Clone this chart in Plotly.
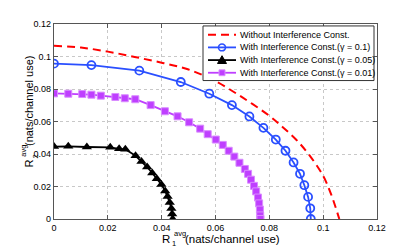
import plotly.graph_objects as go

# ---- data ----
no_ic_x = [0, 0.01, 0.02, 0.03, 0.04, 0.05, 0.06, 0.07, 0.08, 0.085, 0.09, 0.095, 0.1, 0.103, 0.106]
no_ic_y = [0.1066, 0.1055, 0.1030, 0.0997, 0.0962, 0.0920, 0.0848, 0.0748, 0.0635, 0.0565, 0.0488, 0.0390, 0.0265, 0.0150, 0.0]

g01_x = [0, 0.0139, 0.0317, 0.0471, 0.0577, 0.0661, 0.0726, 0.0778, 0.0824, 0.0860, 0.0890, 0.0914, 0.0930, 0.0944, 0.0952, 0.0954]
g01_y = [0.0956, 0.0947, 0.0913, 0.0843, 0.0771, 0.0701, 0.0631, 0.0561, 0.0489, 0.0420, 0.0348, 0.0278, 0.0208, 0.0136, 0.0066, 0.0]

g005_x = [0, 0.0053, 0.0122, 0.0209, 0.0242, 0.0265, 0.0303, 0.0325, 0.0346, 0.0365, 0.0382, 0.0399, 0.0413, 0.0422, 0.0430, 0.0436, 0.0439, 0.0441]
g005_y = [0.0446, 0.0447, 0.0443, 0.0441, 0.0432, 0.0429, 0.0389, 0.0354, 0.0320, 0.0283, 0.0248, 0.0212, 0.0173, 0.0138, 0.0102, 0.0065, 0.0031, 0.0]

g001_x = [0, 0.0053, 0.0105, 0.0139, 0.0174, 0.0228, 0.0263, 0.0302, 0.0359, 0.0412, 0.0459, 0.0502, 0.0543, 0.0571, 0.0601, 0.0627, 0.0649, 0.0670, 0.0689, 0.0709, 0.0721, 0.0732, 0.0743, 0.0751, 0.0758, 0.0762, 0.0765, 0.0766, 0.0767]
g001_y = [0.0773, 0.0771, 0.0769, 0.0765, 0.0759, 0.0751, 0.0743, 0.0737, 0.0701, 0.0663, 0.0632, 0.0595, 0.0556, 0.0522, 0.0489, 0.0456, 0.0420, 0.0384, 0.0346, 0.0308, 0.0278, 0.0242, 0.0204, 0.0170, 0.0132, 0.0096, 0.0058, 0.0022, 0.0]

tick_vals = [0, 0.02, 0.04, 0.06, 0.08, 0.1, 0.12]
tick_text = ["0", "0.02", "0.04", "0.06", "0.08", "0.1", "0.12"]

series_names = [
    "Without Interference Const.",
    "With Interference Const.(\u03b3 = 0.1)",
    "With Interference Const.(\u03b3 = 0.05)",
    "With Interference Const.(\u03b3 = 0.01)",
]

FONT = "Liberation Sans, Arial, sans-serif"
RED, BLUE, BLACK, MAG = "#ff0000", "#2a4fff", "#000000", "#bf3fff"

# page body has an 8px margin: the figure is shifted by OFF in the screenshot
OFF = 8
W, H = 407, 240
ML, MR, MT, MB = 46, 38, 11, 29
PW, PH = W - ML - MR, H - MT - MB


def px(x):
    """page pixel x -> paper coordinate"""
    return (x - OFF - ML) / PW


def py(y):
    """page pixel y -> paper coordinate"""
    return (H - MB - (y - OFF)) / PH


fig = go.Figure()
fig.add_trace(go.Scatter(x=no_ic_x, y=no_ic_y, mode="lines", name=series_names[0],
                         line=dict(color=RED, width=2, dash="8px,5px"), line_shape="spline",
                         showlegend=False))
fig.add_trace(go.Scatter(x=g01_x, y=g01_y, mode="lines+markers", name=series_names[1],
                         line=dict(color=BLUE, width=1.8), showlegend=False,
                         marker=dict(symbol="circle-open", size=8, color=BLUE, line=dict(width=1.8))))
fig.add_trace(go.Scatter(x=g005_x, y=g005_y, mode="lines+markers", name=series_names[2],
                         line=dict(color=BLACK, width=1.8), showlegend=False,
                         marker=dict(symbol="triangle-up", size=9, color=BLACK)))
fig.add_trace(go.Scatter(x=g001_x, y=g001_y, mode="lines+markers", name=series_names[3],
                         line=dict(color=MAG, width=1.8), showlegend=False,
                         marker=dict(symbol="square", size=7, color=MAG,
                                     line=dict(color="#d98cff", width=1))))

axis_common = dict(
    range=[0, 0.12], tickvals=tick_vals, ticktext=tick_text,
    showgrid=True, gridcolor="#c8c8c8", griddash="dot", gridwidth=1,
    showline=True, linecolor="#555555", linewidth=1.2, mirror="ticks",
    ticks="inside", ticklen=4, tickcolor="#555555",
    zeroline=False, tickfont=dict(family=FONT, size=9, color="#000"),
)

fig.update_layout(
    width=W, height=H,
    margin=dict(l=ML, r=MR, t=MT, b=MB),
    paper_bgcolor="white", plot_bgcolor="white",
    font=dict(family=FONT, size=9, color="#000"),
    xaxis=axis_common,
    yaxis=axis_common,
    showlegend=False,
)

shapes = []
ann = []

# ---- custom legend (compact, like the reference) ----
shapes.append(dict(type="rect", xref="paper", yref="paper",
                   x0=px(203), x1=px(374), y0=py(77), y1=py(21),
                   fillcolor="white", line=dict(color="#333333", width=1), layer="above"))
rows = [30, 43, 56, 69]
colors = [RED, BLUE, BLACK, MAG]
for i, (ry, col, name) in enumerate(zip(rows, colors, series_names)):
    dash = "8px,5px" if i == 0 else "solid"
    shapes.append(dict(type="line", xref="paper", yref="paper",
                       x0=px(208), x1=px(236), y0=py(ry), y1=py(ry),
                       line=dict(color=col, width=2 if i == 0 else 1.8, dash=dash), layer="above"))
    cx = 222
    if i == 1:
        shapes.append(dict(type="circle", xref="paper", yref="paper",
                           x0=px(cx - 3.5), x1=px(cx + 3.5), y0=py(ry + 3.5), y1=py(ry - 3.5),
                           line=dict(color=BLUE, width=1.6), fillcolor="rgba(0,0,0,0)", layer="above"))
    elif i == 2:
        path = "M {} {} L {} {} L {} {} Z".format(px(cx - 4.5), py(ry + 3.5), px(cx + 4.5), py(ry + 3.5),
                                                   px(cx), py(ry - 4.5))
        shapes.append(dict(type="path", xref="paper", yref="paper", path=path,
                           fillcolor=BLACK, line=dict(color=BLACK, width=1), layer="above"))
    elif i == 3:
        shapes.append(dict(type="rect", xref="paper", yref="paper",
                           x0=px(cx - 3), x1=px(cx + 3), y0=py(ry + 3), y1=py(ry - 3),
                           fillcolor=MAG, line=dict(color="#d98cff", width=1), layer="above"))
    ann.append(dict(text=name, x=px(238), y=py(ry), xref="paper", yref="paper",
                    showarrow=False, xanchor="left", yanchor="middle",
                    font=dict(family=FONT, size=9, color="#000")))

# ---- axis titles with stacked super/subscripts ----
xt = [
    dict(text="R", x=166, y=239, size=11.5),
    dict(text="avg", x=180, y=234, size=7.5),
    dict(text="1", x=173.5, y=244.5, size=7.5),
    dict(text="(nats/channel use)", x=232, y=239, size=11.5),
]
for t in xt:
    ann.append(dict(text=t["text"], x=px(t["x"]), y=py(t["y"]),
                    xref="paper", yref="paper", showarrow=False,
                    xanchor="center", yanchor="middle",
                    font=dict(family=FONT, size=t["size"], color="#000")))
yt = [
    dict(text="R", x=29, y=162, size=11),
    dict(text="avg", x=24, y=149, size=7.5),
    dict(text="2", x=35.5, y=155.5, size=7.5),
    dict(text="(nats/channel use)", x=29, y=98, size=11),
]
for t in yt:
    ann.append(dict(text=t["text"], x=px(t["x"]), y=py(t["y"]),
                    xref="paper", yref="paper", showarrow=False, textangle=-90,
                    xanchor="center", yanchor="middle",
                    font=dict(family=FONT, size=t["size"], color="#000")))

fig.update_layout(shapes=shapes, annotations=ann)

fig.write_html("out.html")
